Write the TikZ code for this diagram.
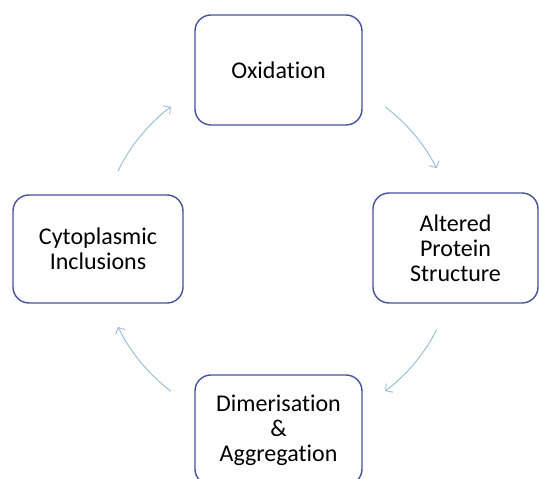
\documentclass[tikz,border=0pt]{standalone}
\usepackage{fontspec}
\setmainfont{Carlito}[Ligatures={NoCommon}]
\usetikzlibrary{arrows.meta,calc}
\definecolor{boxblue}{RGB}{70,82,158}
\definecolor{flowblue}{RGB}{150,186,214}
\begin{document}
\begin{tikzpicture}[x=1pt,y=1pt]
        \tikzstyle{stage}=[draw=boxblue,line width=1.4pt,rounded corners=16pt,fill=white,align=center,font=\fontsize{24}{25}\selectfont,inner sep=0pt]
        \tikzstyle{flow}=[draw=flowblue,line width=0.9pt,-{Straight Barb[length=5pt,width=11pt]}]
        \useasboundingbox (0,0) rectangle (539,479);
        \coordinate (c) at (278,230);
        \node[stage,minimum width=167pt,minimum height=110pt] (oxid) at (278.5,409) {Oxidation};
        \node[stage,minimum width=165pt,minimum height=110pt] (alter) at (455.5,231) {Altered\\Protein\\Structure};
        \node[stage,minimum width=167pt,minimum height=110pt] (dimer) at (278.5,49) {Dimerisation\\\&\\Aggregation};
        \node[stage,minimum width=170pt,minimum height=108pt] (cyto) at (98,230) {Cytoplasmic\\Inclusions};
        \foreach \a/\b in {154/127,53/27,-27/-53,-127/-154}
            \draw[flow] ($(c)+(\a:178)$) arc[start angle=\a,end angle=\b,radius=178];
    \end{tikzpicture}
\end{document}
